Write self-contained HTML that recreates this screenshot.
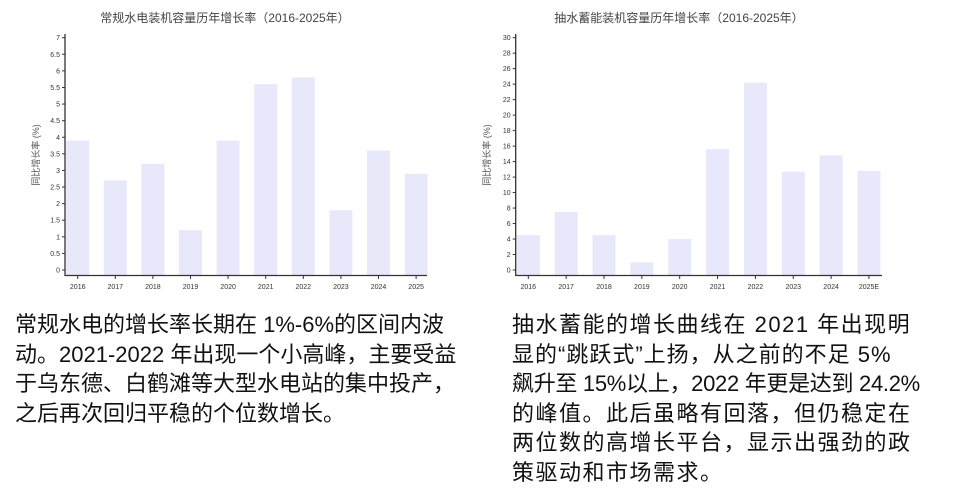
<!DOCTYPE html>
<html><head><meta charset="utf-8"><style>
body{margin:0;width:959px;height:500px;background:#fff;overflow:hidden;position:relative;font-family:"Liberation Sans","Noto Sans CJK SC",sans-serif}
svg{position:absolute;left:0;top:0}
.txt{position:absolute;font-size:22px;line-height:29.5px;color:#111;white-space:nowrap;font-family:"Liberation Sans","Noto Sans CJK SC",sans-serif}
</style></head><body>
<svg id="chart" width="959" height="290"></svg>
<div class="txt" style="left:15px;top:310px">常规水电的增长率长期在 1%-6%的区间内波<br>动。2021-2022 年出现一个小高峰，主要受益<br>于乌东德、白鹤滩等大型水电站的集中投产，<br>之后再次回归平稳的个位数增长。</div>
<div class="txt" style="left:512px;top:310px"><span style="letter-spacing:1.5px">抽水蓄能的增长曲线在 2021 年出现明</span><br><span style="letter-spacing:1px">显的“跳跃式”上扬，从之前的不足 5%</span><br><span style="letter-spacing:-0.3px">飙升至 15%以上，2022 年更是达到 24.2%</span><br><span style="letter-spacing:1.5px">的峰值。此后虽略有回落，但仍稳定在</span><br><span style="letter-spacing:1.5px">两位数的高增长平台，显示出强劲的政</span><br><span style="letter-spacing:1.5px">策驱动和市场需求。</span></div>
<script>
const leftCategories=['2016','2017','2018','2019','2020','2021','2022','2023','2024','2025'];
const leftValues=[3.9,2.7,3.2,1.2,3.9,5.6,5.8,1.8,3.6,2.9];
const leftTicks=[0,0.5,1,1.5,2,2.5,3,3.5,4,4.5,5,5.5,6,6.5,7];
const rightCategories=['2016','2017','2018','2019','2020','2021','2022','2023','2024','2025E'];
const rightValues=[4.5,7.5,4.5,1,4,15.6,24.2,12.7,14.8,12.8];
const rightTicks=[0,2,4,6,8,10,12,14,16,18,20,22,24,26,28,30];
const NS='http://www.w3.org/2000/svg';
const svg=document.getElementById('chart');
function mk(tag,attrs,parent){const e=document.createElementNS(NS,tag);for(const k in attrs)e.setAttribute(k,attrs[k]);(parent||svg).appendChild(e);return e;}
function draw(o){
  const g=mk('g',{});
  
  
  const y0=270,y1=37.7,max=o.ticks[o.ticks.length-1];
  const y=v=>y0-(v/max)*(y0-y1);
  const x=i=>o.c0+i*o.step;
  const t=mk('text',{x:o.tx,y:22,'text-anchor':'middle','font-size':12,fill:'#444'},g);
  t.textContent=o.title;
  
  
  const yl=mk('text',{transform:`translate(${o.ylx},155) rotate(-90)`,'text-anchor':'middle','font-size':9,fill:'#555'},g);
  yl.textContent='同比增长率 (%)';
  
  
  o.values.forEach((v,i)=>{
    const r=mk('rect',{x:x(i)-11.5,y:y(v),width:23,height:275.5-y(v),fill:'#e8e8fb'},g);
    
    
  });
  mk('line',{x1:o.ax,y1:34,x2:o.ax,y2:276,stroke:'#333','stroke-width':1.3},g);
  mk('line',{x1:o.ax,y1:275.5,x2:o.xend,y2:275.5,stroke:'#333','stroke-width':1.3},g);
  o.ticks.forEach(tv=>{
    mk('line',{x1:o.ax-3,y1:y(tv),x2:o.ax,y2:y(tv),stroke:'#333'},g);
    const l=mk('text',{x:o.ax-5,y:y(tv)+2.5,'text-anchor':'end','font-size':7,fill:'#333'},g);
    l.textContent=tv;
    
    
  });
  o.cats.forEach((c,i)=>{
    mk('line',{x1:x(i),y1:275.5,x2:x(i),y2:279,stroke:'#333'},g);
    const l=mk('text',{x:x(i),y:289,'text-anchor':'middle','font-size':7,fill:'#333'},g);
    l.textContent=c;
    
    
  });
}
draw({name:'conventional-hydro-chart',title:'常规水电装机容量历年增长率（2016-2025年）',tx:225,ylx:39,ax:65,xend:427,c0:77.7,step:37.6,values:leftValues,cats:leftCategories,ticks:leftTicks});
draw({name:'pumped-storage-chart',title:'抽水蓄能装机容量历年增长率（2016-2025年）',tx:679,ylx:490,ax:515.7,xend:882,c0:528.3,step:37.85,values:rightValues,cats:rightCategories,ticks:rightTicks});
</script>
</body></html>
